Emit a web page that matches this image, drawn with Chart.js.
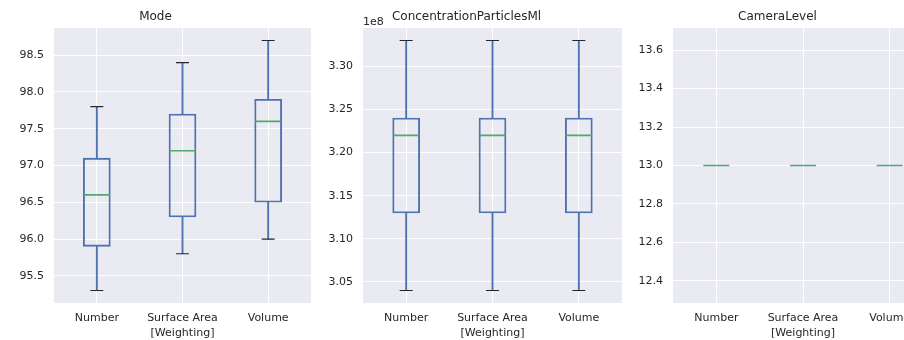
<!DOCTYPE html>
<html>
<head>
<meta charset="utf-8">
<script src="https://cdn.jsdelivr.net/npm/chart.js@4"></script>
<style>
  body { margin: 0; background: #fff; overflow: hidden; width: 904px; height: 340px; position: relative; }
  canvas { position: absolute; top: 0; }
</style>
</head>
<body>
<canvas id="modeChart" width="311" height="340" style="left:0px"></canvas>
<canvas id="concChart" width="311" height="340" style="left:311px"></canvas>
<canvas id="cameraChart" width="311" height="340" style="left:622px"></canvas>
<script>
const categories = ['Number', 'Surface Area', 'Volume'];

// Mode
const modeMin = [95.3, 95.8, 96.0];
const modeQ1 = [95.9, 96.3, 96.5];
const modeMed = [96.6, 97.2, 97.6];
const modeQ3 = [97.1, 97.7, 97.9];
const modeMax = [97.8, 98.4, 98.7];
const modeTicks = [95.5, 96.0, 96.5, 97.0, 97.5, 98.0, 98.5];

// ConcentrationParticlesMl
const concMin = [3.04e8, 3.04e8, 3.04e8];
const concQ1 = [3.13e8, 3.13e8, 3.13e8];
const concMed = [3.22e8, 3.22e8, 3.22e8];
const concQ3 = [3.24e8, 3.24e8, 3.24e8];
const concMax = [3.33e8, 3.33e8, 3.33e8];
const concTicks = [3.05e8, 3.10e8, 3.15e8, 3.20e8, 3.25e8, 3.30e8];

// CameraLevel
const camMin = [13, 13, 13];
const camQ1 = [13, 13, 13];
const camMed = [13, 13, 13];
const camQ3 = [13, 13, 13];
const camMax = [13, 13, 13];
const camTicks = [12.4, 12.6, 12.8, 13.0, 13.2, 13.4, 13.6];

const BLUE = '#4C72B0';
const GREEN = '#55A868';
const CAP = '#262626';
const TEXT = '#262626';
const FONT = 'DejaVu Sans';

Chart.defaults.font.family = FONT;
Chart.defaults.color = TEXT;

const plotBackground = {
  id: 'plotBackground',
  beforeDraw(chart) {
    const { ctx, chartArea: a } = chart;
    ctx.save();
    ctx.fillStyle = '#EAEAF2';
    ctx.fillRect(a.left, a.top, a.right - a.left, a.bottom - a.top);
    ctx.restore();
  }
};

// matplotlib's "1e8" offset label above the y axis
const offsetText = {
  id: 'offsetText',
  afterDraw(chart, args, opts) {
    if (!opts.text) return;
    const { ctx, chartArea: a } = chart;
    ctx.save();
    ctx.font = '11px "' + FONT + '"';
    ctx.fillStyle = TEXT;
    ctx.textAlign = 'left';
    ctx.textBaseline = 'middle';
    ctx.fillText(opts.text, a.left, a.top - 6);
    ctx.restore();
  }
};

function zip(a, b) {
  return a.map((v, i) => [v, b[i]]);
}

function boxChart(id, title, lo, q1, med, q3, hi, ticks, yMin, yMax, fmt, axisWidth, offText) {
  return new Chart(document.getElementById(id), {
    type: 'bar',
    data: {
      labels: categories,
      datasets: [
        // medians
        {
          type: 'line', data: med, showLine: false,
          pointStyle: 'line', pointRadius: 13, pointHoverRadius: 13,
          pointBorderColor: GREEN, pointBorderWidth: 1.6
        },
        // caps
        {
          type: 'line', data: hi, showLine: false,
          pointStyle: 'line', pointRadius: 6.5, pointHoverRadius: 6.5,
          pointBorderColor: CAP, pointBorderWidth: 1.2
        },
        {
          type: 'line', data: lo, showLine: false,
          pointStyle: 'line', pointRadius: 6.5, pointHoverRadius: 6.5,
          pointBorderColor: CAP, pointBorderWidth: 1.2
        },
        // boxes
        {
          data: zip(q1, q3), barThickness: 27,
          backgroundColor: 'rgba(0,0,0,0)', borderColor: BLUE,
          borderWidth: 1.2, borderSkipped: false
        },
        // whiskers
        {
          data: zip(q3, hi), barThickness: 1.2,
          backgroundColor: BLUE, borderWidth: 0
        },
        {
          data: zip(lo, q1), barThickness: 1.2,
          backgroundColor: BLUE, borderWidth: 0
        }
      ]
    },
    options: {
      responsive: false,
      animation: false,
      devicePixelRatio: 1,
      grouped: false,
      layout: { padding: 0, autoPadding: false },
      plugins: {
        legend: { display: false },
        tooltip: { enabled: false },
        title: {
          display: true, text: title, color: TEXT,
          font: { size: 12, weight: 'normal' },
          padding: { top: 10, bottom: 3.6 }
        },
        offsetText: { text: offText }
      },
      scales: {
        x: {
          grid: { color: '#ffffff', lineWidth: 1, offset: false, drawTicks: false },
          border: { display: false },
          ticks: { font: { size: 11 }, color: TEXT, padding: 9 },
          title: {
            display: true, text: '[Weighting]', color: TEXT,
            font: { size: 11 }, padding: { top: 2, bottom: 0 }
          },
          afterFit(scale) { scale.height = 37; }
        },
        y: {
          min: yMin, max: yMax,
          grid: { color: '#ffffff', lineWidth: 1, drawTicks: false },
          border: { display: false },
          ticks: { font: { size: 11 }, color: TEXT, padding: 10, callback: fmt },
          afterBuildTicks(scale) { scale.ticks = ticks.map(v => ({ value: v })); },
          afterFit(scale) { scale.width = axisWidth; }
        }
      }
    },
    plugins: [plotBackground, offsetText]
  });
}

boxChart('modeChart', 'Mode', modeMin, modeQ1, modeMed, modeQ3, modeMax,
  modeTicks, 95.13, 98.87, v => v.toFixed(1), 54, '');
boxChart('concChart', 'ConcentrationParticlesMl', concMin, concQ1, concMed, concQ3, concMax,
  concTicks, 3.0255e8, 3.3445e8, v => (v / 1e8).toFixed(2), 52, '1e8');
boxChart('cameraChart', 'CameraLevel', camMin, camQ1, camMed, camQ3, camMax,
  camTicks, 12.285, 13.715, v => v.toFixed(1), 51, '');
</script>
</body>
</html>
